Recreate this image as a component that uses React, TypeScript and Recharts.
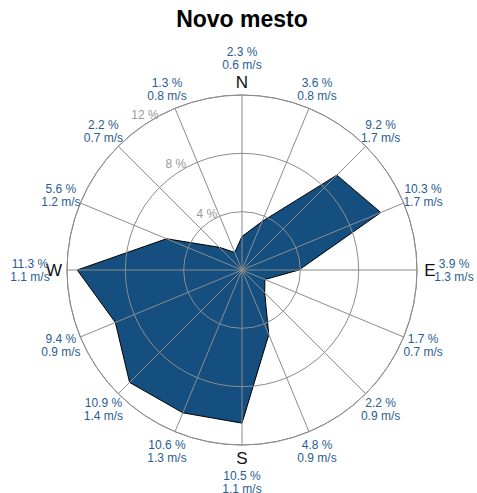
import { RadarChart, Radar, PolarGrid, PolarAngleAxis, PolarRadiusAxis } from 'recharts'

const directions = ['N', 'NNE', 'NE', 'ENE', 'E', 'ESE', 'SE', 'SSE', 'S', 'SSW', 'SW', 'WSW', 'W', 'WNW', 'NW', 'NNW']
const frequency = [2.3, 3.6, 9.2, 10.3, 3.9, 1.7, 2.2, 4.8, 10.5, 10.6, 10.9, 9.4, 11.3, 5.6, 2.2, 1.3]
const speed = [0.6, 0.8, 1.7, 1.7, 1.3, 0.7, 0.9, 0.9, 1.1, 1.3, 1.4, 0.9, 1.1, 1.2, 0.7, 0.8]
const cardinals = ['N', 'E', 'S', 'W']
const radiusTicks = [0, 4, 8, 12]

const data = directions.map((dir, i) => ({ dir, freq: frequency[i], speed: speed[i] }))

const blueText = '#2a5d91'
const gridColor = '#8c8c8c'
const RAD = Math.PI / 180

function AngleTick(props: any) {
  const { payload, cx, cy, radius, index } = props
  const angle = payload.coordinate
  const cos = Math.cos(-angle * RAD)
  const sin = Math.sin(-angle * RAD)
  const d = data[index]
  const isCardinal = cardinals.includes(d.dir)
  const lr = isCardinal ? radius + 37 : radius + 21
  const lx = cx + lr * cos
  const ly = cy + lr * sin
  const font = 'Liberation Sans, Arial, sans-serif'
  return (
    <g>
      {isCardinal && (
        <text
          x={cx + (radius + 13) * cos}
          y={cy + (radius + 13) * sin}
          textAnchor="middle"
          dominantBaseline="central"
          fontSize={17}
          fontFamily={font}
          fill="#111"
        >
          {d.dir}
        </text>
      )}
      <text x={lx} y={ly - 6} textAnchor="middle" dominantBaseline="central" fontSize={12} fontFamily={font} fill={blueText}>
        {`${d.freq} %`}
      </text>
      <text x={lx} y={ly + 7} textAnchor="middle" dominantBaseline="central" fontSize={12} fontFamily={font} fill={blueText}>
        {`${d.speed} m/s`}
      </text>
    </g>
  )
}

function RadiusTick(props: any) {
  const { payload } = props
  if (!payload.value) return null
  const r = (payload.value / 12) * 175 + 8
  const a = 122 * RAD
  return (
    <text
      x={242 + r * Math.cos(a)}
      y={270 - r * Math.sin(a)}
      textAnchor="middle"
      dominantBaseline="central"
      fontSize={12}
      fontFamily="Liberation Sans, Arial, sans-serif"
      fill="#999999"
      stroke="none"
    >
      {`${payload.value} %`}
    </text>
  )
}

export default function App() {
  return (
    <div style={{ position: 'absolute', left: 0, top: 0, width: 477, height: 493, background: '#fff' }}>
      <div
        style={{
          position: 'absolute',
          top: 6,
          width: 484,
          textAlign: 'center',
          fontFamily: 'Liberation Sans, Arial, sans-serif',
          fontWeight: 'bold',
          fontSize: 23,
          color: '#000',
        }}
      >
        Novo mesto
      </div>
      <RadarChart width={477} height={493} data={data} cx={242} cy={270} outerRadius={175} startAngle={90} endAngle={-270}>
        <Radar
          dataKey="freq"
          fill="#154f80"
          fillOpacity={1}
          stroke="#000"
          strokeWidth={1}
          isAnimationActive={false}
        />
        {/* grid sits above the filled rose, as in the reference */}
        <PolarGrid gridType="circle" stroke={gridColor} strokeOpacity={1} zIndex={600} />
        <PolarAngleAxis
          dataKey="dir"
          tick={<AngleTick />}
          tickLine={false}
          axisLineType="circle"
          axisLine={{ stroke: gridColor }}
        />
        <PolarRadiusAxis
          angle={122}
          domain={[0, 12]}
          ticks={radiusTicks}
          tickCount={4}
          tick={<RadiusTick />}
          axisLine={false}
          tickLine={false}
        />
      </RadarChart>
    </div>
  )
}
